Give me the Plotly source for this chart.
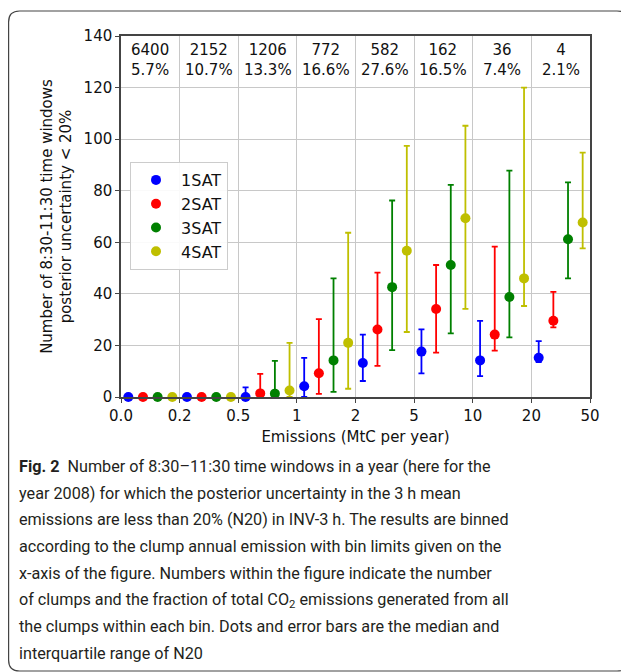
import plotly.graph_objects as go

# ---------------- data ----------------
bin_edges = ["0.0", "0.2", "0.5", "1", "2", "5", "10", "20", "50"]
n_clumps = ["6400", "2152", "1206", "772", "582", "162", "36", "4"]
emis_frac = ["5.7%", "10.7%", "13.3%", "16.6%", "27.6%", "16.5%", "7.4%", "2.1%"]

series_names = ["1SAT", "2SAT", "3SAT", "4SAT"]

med_1sat = [0, 0, 0, 4.2, 13.2, 17.6, 14.2, 15.2]
q1_1sat = [0, 0, 0, 0, 6.2, 9.2, 8.1, 13.5]
q3_1sat = [0, 0, 3.7, 15.2, 24.2, 26.2, 29.5, 21.7]

med_2sat = [0, 0, 1.4, 9.2, 26.2, 34.1, 24.2, 29.6]
q1_2sat = [0, 0, 0, 1.2, 12.1, 17.2, 18.0, 27.0]
q3_2sat = [0, 0, 9.0, 30.2, 48.2, 51.2, 58.3, 40.8]

med_3sat = [0, 0, 1.3, 14.2, 42.6, 51.2, 38.8, 61.2]
q1_3sat = [0, 0, 0, 2.0, 18.2, 24.7, 23.1, 46.0]
q3_3sat = [0, 0, 14.0, 46.0, 76.2, 82.3, 87.8, 83.2]

med_4sat = [0, 0, 2.5, 21.0, 56.7, 69.3, 46.0, 67.7]
q1_4sat = [0, 0, 0, 3.2, 25.2, 34.2, 35.3, 57.6]
q3_4sat = [0, 0, 21.0, 63.7, 97.4, 105.2, 120.0, 94.8]

caption_lines = [
    "<b>Fig. 2</b>  Number of 8:30–11:30 time windows in a year (here for the",
    "year 2008) for which the posterior uncertainty in the 3 h mean",
    "emissions are less than 20% (N20) in INV-3 h. The results are binned",
    "according to the clump annual emission with bin limits given on the",
    "x-axis of the figure. Numbers within the figure indicate the number",
    "of clumps and the fraction of total CO<sub>2</sub> emissions generated from all",
    "the clumps within each bin. Dots and error bars are the median and",
    "interquartile range of N20",
]

# ---------------- styling ----------------
colors = ["#0000ff", "#ff0000", "#008000", "#bfbf00"]
offsets = [0.125, 0.375, 0.625, 0.875]
OX, OY = 8, 8                       # page body margin
W, H = 629 - OX, 672 - OY           # figure size
L, R, T, B = 121, 590, 36, 397      # plot area in page pixels

def px(x):
    return (x - L) / (R - L)

def py(y):
    return (B - y) / (B - T)

fig = go.Figure()
meds = [med_1sat, med_2sat, med_3sat, med_4sat]
q1s = [q1_1sat, q1_2sat, q1_3sat, q1_4sat]
q3s = [q3_1sat, q3_2sat, q3_3sat, q3_4sat]
for k, name in enumerate(series_names):
    xs = [i + offsets[k] for i in range(len(meds[k]))]
    fig.add_trace(go.Scatter(
        x=xs, y=meds[k], mode="markers", name=name,
        marker=dict(color=colors[k], size=10),
        error_y=dict(type="data", symmetric=False,
                     array=[q3 - m for q3, m in zip(q3s[k], meds[k])],
                     arrayminus=[m - q1 for q1, m in zip(q1s[k], meds[k])],
                     color=colors[k], thickness=1.8, width=3),
        cliponaxis=False,
    ))

annotations = []
for i, (n, f) in enumerate(zip(n_clumps, emis_frac)):
    annotations.append(dict(x=i + 0.5, y=130.6, xref="x", yref="y",
                            text=f"{n}<br>{f}", showarrow=False,
                            font=dict(family="DejaVu Sans", size=15, color="#111"),
                            xanchor="center", yanchor="middle"))

for j, line in enumerate(caption_lines):
    annotations.append(dict(x=px(17), y=py(466.5 + j * 26.7), xref="paper", yref="paper",
                            text=line, showarrow=False, xanchor="left", yanchor="middle",
                            font=dict(family="Roboto", size=16.2, color="#231f20")))

# rounded outer frame (page pixels)
x0, x1, y0, y1, r = 8.6, 628, 11, 671, 11
def P(x, y):
    return f"{px(x):.5f},{py(y):.5f}"
path = (f"M {P(x0, y0 + r)} Q {P(x0, y0)} {P(x0 + r, y0)} "
        f"L {P(x1 - r, y0)} Q {P(x1, y0)} {P(x1, y0 + r)} "
        f"L {P(x1, y1 - r)} Q {P(x1, y1)} {P(x1 - r, y1)} "
        f"L {P(x0 + r, y1)} Q {P(x0, y1)} {P(x0, y1 - r)} Z")

fig.update_layout(
    width=W, height=H,
    margin=dict(l=L - OX, r=629 - R, t=T - OY, b=672 - B),
    paper_bgcolor="white", plot_bgcolor="white",
    font=dict(family="DejaVu Sans", size=15, color="#111"),
    showlegend=True,
    legend=dict(x=px(130), y=py(162), xanchor="left", yanchor="top",
                bgcolor="rgba(255,255,255,0.9)", bordercolor="#cccccc", borderwidth=1,
                font=dict(family="DejaVu Sans", size=16, color="#111"),
                itemwidth=40, tracegroupgap=0),
    xaxis=dict(range=[0, 8], tickmode="array", tickvals=list(range(len(bin_edges))),
               ticktext=bin_edges, showgrid=True, gridcolor="#c8c8c8", gridwidth=1,
               showline=True, linecolor="#444", linewidth=1.5, mirror=True,
               ticks="outside", ticklen=4, tickcolor="#444", zeroline=False,
               title=dict(text="Emissions (MtC per year)", font=dict(size=15), standoff=8),
               tickfont=dict(size=15)),
    yaxis=dict(range=[0, 140], dtick=20, showgrid=True, gridcolor="#c8c8c8", gridwidth=1,
               showline=True, linecolor="#444", linewidth=1.5, mirror=True,
               ticks="outside", ticklen=4, tickcolor="#444", zeroline=False,
               title=dict(text="Number of 8:30-11:30 time windows<br>posterior uncertainty < 20%",
                          font=dict(size=15), standoff=8),
               tickfont=dict(size=15)),
    annotations=annotations,
    shapes=[dict(type="path", xref="paper", yref="paper", path=path,
                 line=dict(color="#444", width=1.2), fillcolor="rgba(0,0,0,0)", layer="below")],
)

fig.write_html("out.html")
